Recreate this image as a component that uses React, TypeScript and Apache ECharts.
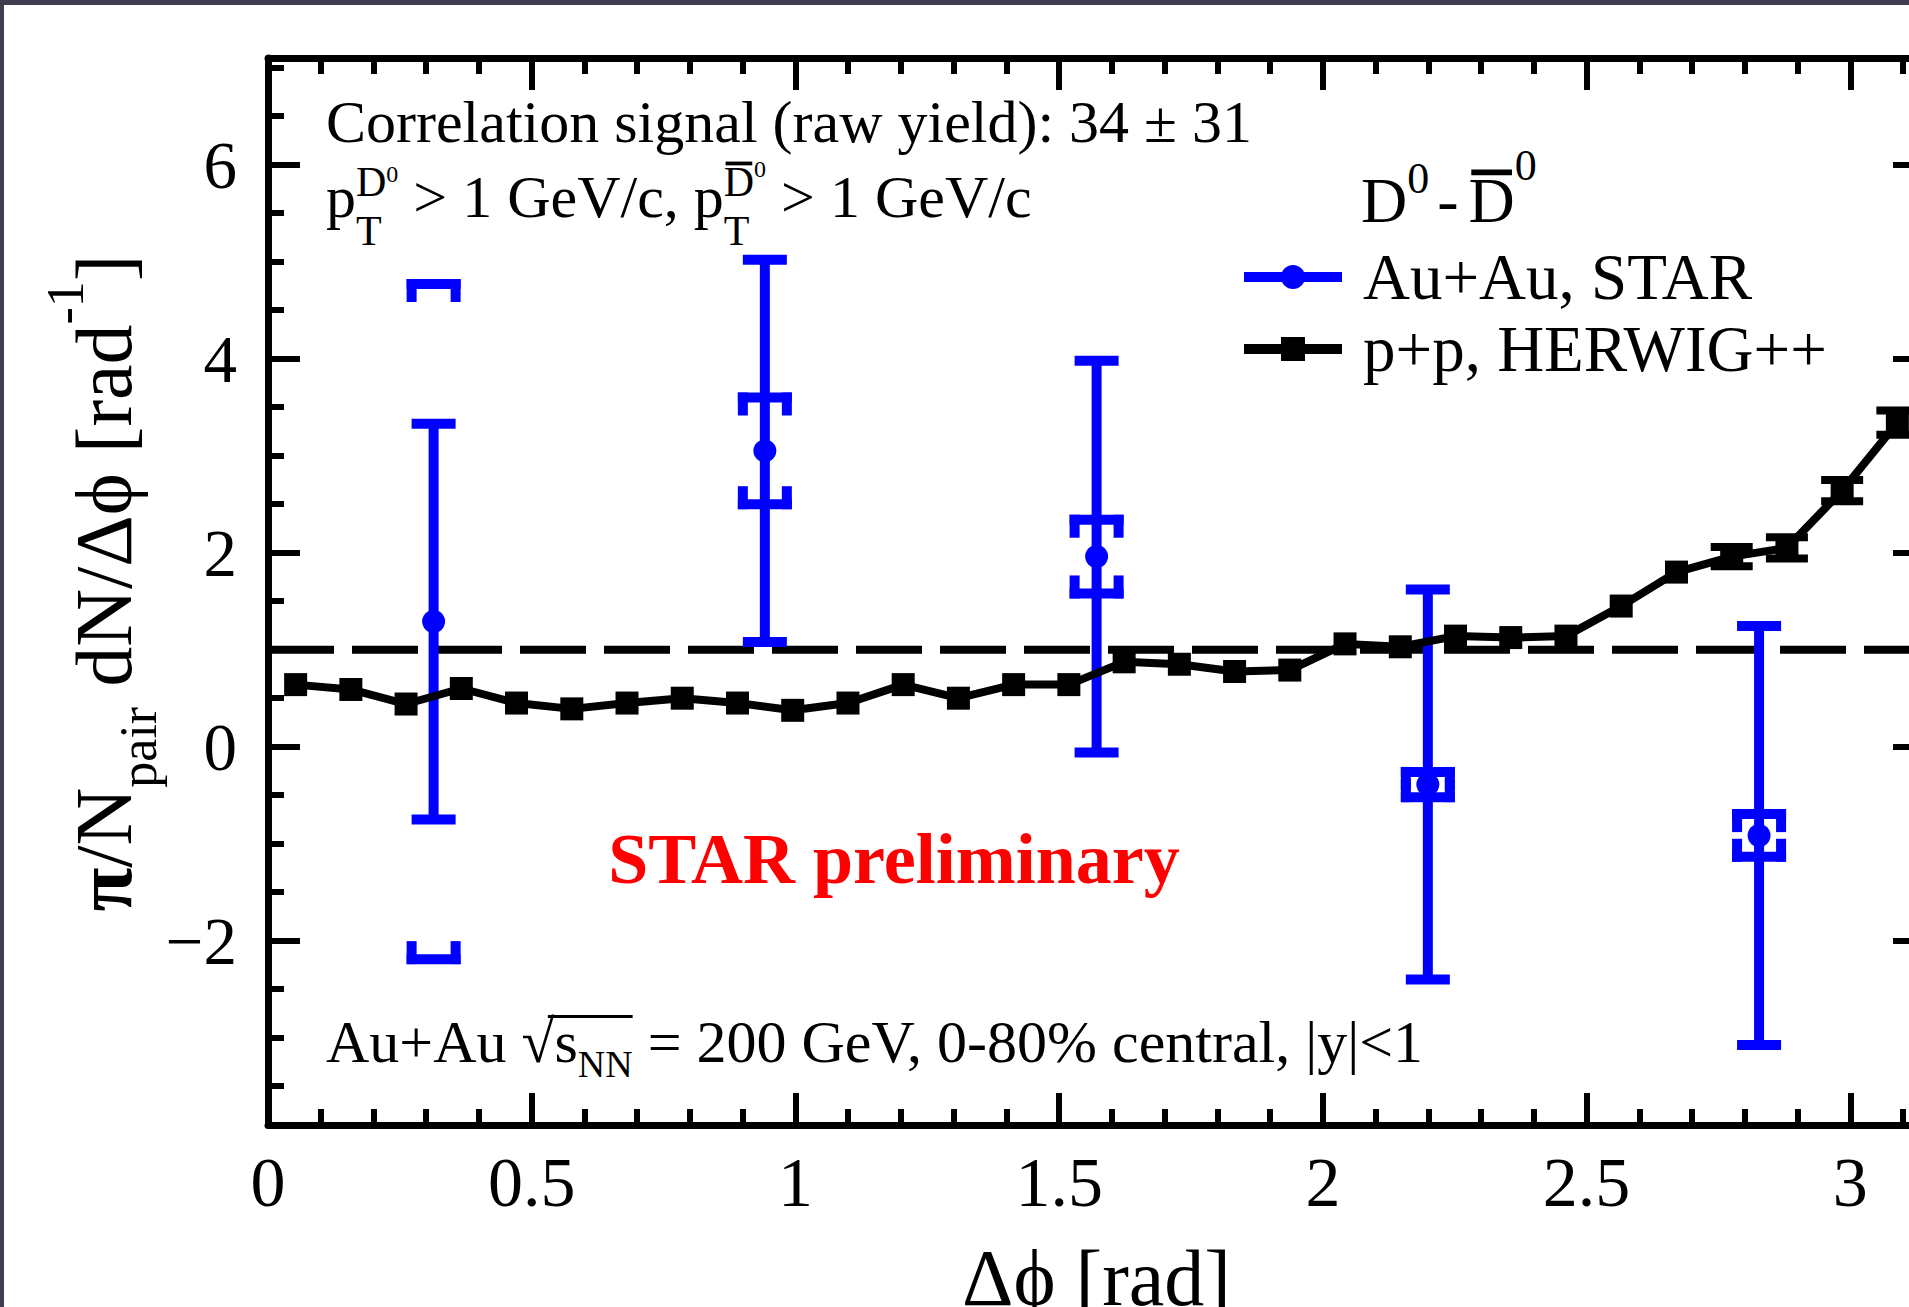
import React, { useEffect, useRef } from 'react';
import * as echarts from 'echarts';

const FONT = '"Liberation Serif", "Times New Roman", Times, serif';
const PI = Math.PI;

// ---- Data -------------------------------------------------------------
// p+p HERWIG++ (30 bins in delta-phi)
const herwigPhi = [0.0524, 0.1571, 0.2618, 0.3665, 0.4712, 0.576, 0.6807, 0.7854, 0.8901, 0.9948,
  1.0996, 1.2043, 1.309, 1.4137, 1.5184, 1.6232, 1.7279, 1.8326, 1.9373, 2.042,
  2.1468, 2.2515, 2.3562, 2.4609, 2.5656, 2.6704, 2.7751, 2.8798, 2.9845, 3.0892];
const herwigYield = [0.64, 0.59, 0.44, 0.6, 0.45, 0.39, 0.45, 0.5, 0.45, 0.375,
  0.45, 0.64, 0.5, 0.64, 0.64, 0.875, 0.85, 0.775, 0.79, 1.06,
  1.03, 1.14, 1.125, 1.14, 1.45, 1.8, 1.96, 2.05, 2.64, 3.34];
const herwigErr = [0, 0, 0, 0, 0, 0, 0, 0, 0, 0,
  0, 0, 0, 0, 0, 0, 0, 0, 0, 0,
  0, 0, 0, 0, 0, 0, 0.1, 0.11, 0.11, 0.125];

// Au+Au STAR
const starPhi = [0.314, 0.942, 1.571, 2.199, 2.827];
const starYield = [1.29, 3.05, 1.96, -0.39, -0.915];
const starStat = [2.04, 1.97, 2.02, 2.01, 2.16];
const starSys = [3.48, 0.55, 0.38, 0.13, 0.22];

const referenceLevel = 1;

const xMajorTicks = [0, 0.5, 1, 1.5, 2, 2.5, 3];
const xMinorTicks = [0.1, 0.2, 0.3, 0.4, 0.6, 0.7, 0.8, 0.9, 1.1, 1.2, 1.3, 1.4, 1.6, 1.7, 1.8, 1.9,
  2.1, 2.2, 2.3, 2.4, 2.6, 2.7, 2.8, 2.9, 3.1];
const yMajorTicks = [-2, 0, 2, 4, 6];
const yMinorTicks = [-3.5, -3, -2.5, -1.5, -1, -0.5, 0.5, 1, 1.5, 2.5, 3, 3.5, 4.5, 5, 5.5, 6.5, 7];

// ---- Text helpers -------------------------------------------------------
const CENTRAL = 0.3375;
let measureCtx: CanvasRenderingContext2D | null = null;
function tw(t: string, size: number, bold = false): number {
  if (!measureCtx) measureCtx = document.createElement('canvas').getContext('2d');
  measureCtx!.font = `${bold ? 'bold ' : ''}${size}px ${FONT}`;
  return measureCtx!.measureText(t).width;
}

function txt(x: number, y: number, text: string, size: number, opts: any = {}) {
  const align = opts.align || 'left';
  return {
    type: 'text', x, y, z: 100,
    style: {
      text, fontSize: size, fontFamily: FONT, fontWeight: opts.bold ? 'bold' : 'normal',
      fill: opts.color || '#000', align, verticalAlign: 'middle',
    },
  };
}

type Seg = { t: string; s: number; dy?: number; dx?: number; bold?: boolean; keep?: boolean; over?: boolean; color?: string };
function layoutSegs(segs: Seg[], x0: number, base: number) {
  const els: any[] = [];
  const xs: number[] = [];
  const ws: number[] = [];
  let x = x0;
  segs.forEach((sg) => {
    x += sg.dx || 0;
    const w = tw(sg.t, sg.s, sg.bold);
    const b = base + (sg.dy || 0);
    xs.push(x); ws.push(w);
    els.push(txt(x, b - CENTRAL * sg.s, sg.t, sg.s, { bold: sg.bold, color: sg.color }));
    if (sg.over) {
      els.push({ type: 'rect', z: 100, shape: { x: x + w * 0.06, y: b - sg.s * 0.82, width: w * 0.88, height: Math.max(3, sg.s * 0.09) }, style: { fill: '#000' } });
    }
    if (!sg.keep) x += w;
  });
  return { els, xs, ws, end: x };
}

function buildGraphic() {
  const g: any[] = [];
  // line 1
  g.push(...layoutSegs([{ t: 'Correlation signal (raw yield): 34 ± 31', s: 60 }], 326, 142).els);
  // line 2
  g.push(...layoutSegs([
    { t: 'p', s: 60 },
    { t: 'T', s: 42, dy: 28, keep: true },
    { t: 'D', s: 42, dy: -21 },
    { t: '0', s: 24, dy: -35 },
    { t: ' > 1 GeV/c, p', s: 60 },
    { t: 'T', s: 42, dy: 28, keep: true },
    { t: 'D', s: 42, dy: -21, over: true },
    { t: '0', s: 24, dy: -40 },
    { t: ' > 1 GeV/c', s: 60 },
  ], 326, 217).els);
  // legend header
  g.push(...layoutSegs([
    { t: 'D', s: 64 },
    { t: '0', s: 44, dy: -29 },
    { t: '-', s: 64, dx: 8 },
    { t: 'D', s: 64, dx: 10, over: true },
    { t: '0', s: 44, dy: -42 },
  ], 1361, 222).els);
  // bottom text
  const bt = layoutSegs([
    { t: 'Au+Au ', s: 60 },
    { t: '√', s: 60 },
    { t: 's', s: 60 },
    { t: 'NN', s: 38, dy: 15 },
    { t: ' = 200 GeV, 0-80% central, |y|<1', s: 60 },
  ], 326, 1062);
  g.push(...bt.els);
  g.push({ type: 'rect', z: 100, shape: { x: bt.xs[1] + bt.ws[1] * 0.8, y: 1015, width: bt.xs[3] + bt.ws[3] - (bt.xs[1] + bt.ws[1] * 0.8), height: 3 }, style: { fill: '#000' } });
  // STAR preliminary
  g.push(txt(894, 883 - CENTRAL * 72, 'STAR preliminary', 72, { bold: true, color: '#ff0000', align: 'center' }));
  // y axis title (rotated)
  const ySegs: Seg[] = [
    { t: 'π', s: 80, bold: true },
    { t: '/N', s: 80 },
    { t: 'pair', s: 52, dy: 25 },
    { t: ' dN/Δϕ [rad', s: 80 },
    { t: '-1', s: 52, dy: -48 },
    { t: ']', s: 80 },
  ];
  const W = layoutSegs(ySegs, 0, 0).end;
  g.push({ type: 'group', x: 131, y: 583, rotation: PI / 2, children: layoutSegs(ySegs, -W / 2, 0).els });
  // dark frame of the picture
  g.push({ type: 'rect', z: 200, shape: { x: 0, y: 0, width: 1909, height: 5 }, style: { fill: '#3e3e4e' } });
  g.push({ type: 'rect', z: 200, shape: { x: 0, y: 0, width: 4, height: 1307 }, style: { fill: '#3e3e4e' } });
  return g;
}

const fmtX = (v: number) => String(v);
const fmtY = (v: number) => (v < 0 ? '\u2212' + String(-v) : String(v));

function buildOption() {
  const axisBase = { type: 'value', min: 0, max: PI, splitLine: { show: false } };
  const yBase = { type: 'value', min: -3.9, max: 7.1, splitLine: { show: false } };
  const lineBlack = { color: '#000', width: 7 };
  return {
    animation: false,
    backgroundColor: '#ffffff',
    grid: { left: 268, top: 58, width: 1657, height: 1067, containLabel: false, outerBoundsMode: 'none' },
    xAxis: [
      {
        ...axisBase, position: 'bottom',
        axisLine: { show: true, onZero: false, lineStyle: lineBlack },
        axisTick: { show: true, inside: true, length: 32, lineStyle: { color: '#000', width: 6 }, customValues: xMajorTicks },
        axisLabel: { show: true, customValues: xMajorTicks, formatter: fmtX, fontSize: 70, fontFamily: FONT, color: '#000', margin: 22 },
        name: 'Δϕ [rad]', nameLocation: 'middle', nameGap: 113,
        nameTextStyle: { fontSize: 80, fontFamily: FONT, color: '#000' },
      },
      {
        ...axisBase, position: 'bottom',
        axisLine: { show: false, onZero: false },
        axisTick: { show: true, inside: true, length: 16, lineStyle: { color: '#000', width: 6 }, customValues: xMinorTicks },
        axisLabel: { show: false },
      },
      {
        ...axisBase, position: 'top',
        axisLine: { show: true, onZero: false, lineStyle: lineBlack },
        axisTick: { show: true, inside: true, length: 32, lineStyle: { color: '#000', width: 6 }, customValues: xMajorTicks },
        axisLabel: { show: false },
      },
      {
        ...axisBase, position: 'top',
        axisLine: { show: false, onZero: false },
        axisTick: { show: true, inside: true, length: 16, lineStyle: { color: '#000', width: 6 }, customValues: xMinorTicks },
        axisLabel: { show: false },
      },
    ],
    yAxis: [
      {
        ...yBase, position: 'left',
        axisLine: { show: true, onZero: false, lineStyle: lineBlack },
        axisTick: { show: true, inside: true, length: 32, lineStyle: { color: '#000', width: 6 }, customValues: yMajorTicks },
        axisLabel: { show: true, customValues: yMajorTicks, formatter: fmtY, fontSize: 67, fontFamily: FONT, color: '#000', margin: 31 },
      },
      {
        ...yBase, position: 'left',
        axisLine: { show: false, onZero: false },
        axisTick: { show: true, inside: true, length: 16, lineStyle: { color: '#000', width: 6 }, customValues: yMinorTicks },
        axisLabel: { show: false },
      },
      {
        ...yBase, position: 'right',
        axisLine: { show: true, onZero: false, lineStyle: lineBlack },
        axisTick: { show: true, inside: true, length: 32, lineStyle: { color: '#000', width: 6 }, customValues: yMajorTicks },
        axisLabel: { show: false },
      },
      {
        ...yBase, position: 'right',
        axisLine: { show: false, onZero: false },
        axisTick: { show: true, inside: true, length: 16, lineStyle: { color: '#000', width: 6 }, customValues: yMinorTicks },
        axisLabel: { show: false },
      },
    ],
    legend: {
      left: 1239, top: 236, orient: 'vertical', itemWidth: 98, itemHeight: 24, itemGap: 0,
      selectedMode: false,
      textStyle: { fontSize: 65, fontFamily: FONT, color: '#000', lineHeight: 62, padding: [0, 0, 10, 16] },
      data: [
        { name: 'Au+Au, STAR', icon: 'path://M0,7L98,7L98,17L0,17Z M37,12A12,12 0 1,1 61,12A12,12 0 1,1 37,12Z' },
        { name: 'p+p, HERWIG++', icon: 'path://M0,7L98,7L98,17L0,17Z M37,0L61,0L61,24L37,24Z' },
      ],
    },
    graphic: buildGraphic(),
    series: [
      {
        name: 'reference', type: 'line', xAxisIndex: 0, yAxisIndex: 0, silent: true, z: 1,
        data: [[0, referenceLevel], [PI, referenceLevel]], symbol: 'none',
        lineStyle: { color: '#000', width: 8, type: [66, 18] },
      },
      {
        name: 'Au+Au, STAR', type: 'custom', xAxisIndex: 0, yAxisIndex: 0, z: 2,
        itemStyle: { color: '#0000ff' },
        encode: { x: 0, y: 1 },
        data: starPhi.map((x, i) => [x, starYield[i], starStat[i], starSys[i]]),
        renderItem: (params: any, api: any) => {
          const x = api.value(0), y = api.value(1), st = api.value(2), sy = api.value(3);
          const c = api.coord([x, y]);
          const top = api.coord([x, y + st])[1];
          const bot = api.coord([x, y - st])[1];
          const sTop = api.coord([x, y + sy])[1];
          const sBot = api.coord([x, y - sy])[1];
          const lw = 10, capW = 44, boxW = 54, leg = 23;
          const st0 = { fill: '#0000ff' };
          const R = (x0: number, y0: number, w: number, h: number) => ({ type: 'rect', shape: { x: x0, y: y0, width: w, height: h }, style: st0 });
          return {
            type: 'group',
            children: [
              R(c[0] - lw / 2, top, lw, bot - top),
              R(c[0] - capW / 2, top - lw / 2, capW, lw),
              R(c[0] - capW / 2, bot - lw / 2, capW, lw),
              R(c[0] - boxW / 2, sTop - lw / 2, boxW, lw),
              R(c[0] - boxW / 2, sTop - lw / 2, lw, leg),
              R(c[0] + boxW / 2 - lw, sTop - lw / 2, lw, leg),
              R(c[0] - boxW / 2, sBot - lw / 2, boxW, lw),
              R(c[0] - boxW / 2, sBot + lw / 2 - leg, lw, leg),
              R(c[0] + boxW / 2 - lw, sBot + lw / 2 - leg, lw, leg),
              { type: 'circle', shape: { cx: c[0], cy: c[1], r: 11.5 }, style: st0 },
            ],
          };
        },
      },
      {
        name: 'herwigErr', type: 'custom', xAxisIndex: 0, yAxisIndex: 0, z: 3,
        encode: { x: 0, y: 1 },
        data: herwigPhi.map((x, i) => [x, herwigYield[i], herwigErr[i]]),
        renderItem: (params: any, api: any) => {
          const e = api.value(2);
          if (!e) return { type: 'group', children: [] };
          const x = api.value(0), y = api.value(1);
          const p = api.coord([x, y]);
          const t = api.coord([x, y + e])[1];
          const b = api.coord([x, y - e])[1];
          const lw = 7, cw = 42;
          const s = { fill: '#000' };
          return {
            type: 'group',
            children: [
              { type: 'rect', shape: { x: p[0] - lw / 2, y: t, width: lw, height: b - t }, style: s },
              { type: 'rect', shape: { x: p[0] - cw / 2, y: t - 4, width: cw, height: 8 }, style: s },
              { type: 'rect', shape: { x: p[0] - cw / 2, y: b - 4, width: cw, height: 8 }, style: s },
            ],
          };
        },
      },
      {
        name: 'p+p, HERWIG++', type: 'line', xAxisIndex: 0, yAxisIndex: 0, z: 4,
        data: herwigPhi.map((x, i) => [x, herwigYield[i]]),
        symbol: 'rect', symbolSize: 23,
        itemStyle: { color: '#000' },
        lineStyle: { color: '#000', width: 8 },
      },
    ],
  };
}

export default function App() {
  const ref = useRef<HTMLDivElement>(null);
  useEffect(() => {
    const chart = echarts.init(ref.current!, null, { renderer: 'svg' });
    chart.setOption(buildOption() as any);
    return () => chart.dispose();
  }, []);
  return (
    <div
      ref={ref}
      style={{ position: 'fixed', left: 0, top: 0, width: 1909, height: 1307, background: '#ffffff' }}
    />
  );
}
